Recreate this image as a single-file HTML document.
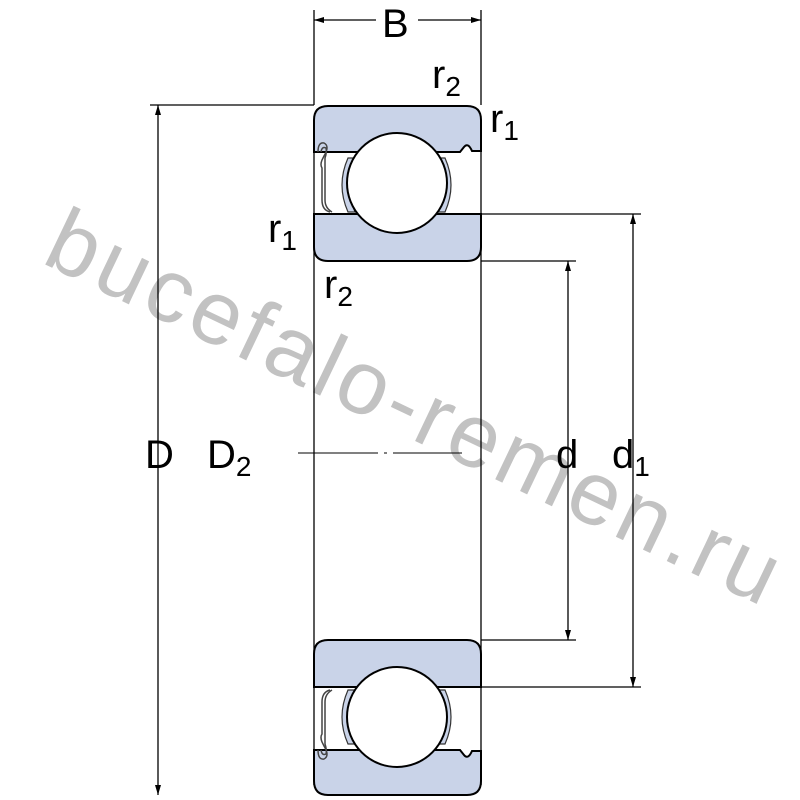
<!DOCTYPE html>
<html><head><meta charset="utf-8"><style>html,body{margin:0;padding:0;background:#fff}svg{display:block}</style></head>
<body>
<svg width="800" height="800" viewBox="0 0 800 800" xmlns="http://www.w3.org/2000/svg" font-family="Liberation Sans, sans-serif">
<defs>
<marker id="a" viewBox="0 0 10 10" refX="10" refY="5" markerWidth="10" markerHeight="10" markerUnits="userSpaceOnUse" orient="auto-start-reverse"><path d="M0,2 L10,5 L0,8 z" fill="#000"/></marker>
</defs>
<text x="40" y="262" transform="rotate(25.5 40 262)" font-size="90" fill="#c2c2c2" textLength="800">bucefalo-remen.ru</text>

<g stroke="#000" stroke-width="1.3" fill="none">
<line x1="314" y1="10" x2="314" y2="105"/><line x1="481" y1="10" x2="481" y2="105"/>
<line x1="314" y1="20" x2="376" y2="20" marker-start="url(#a)"/><line x1="418" y1="20" x2="481" y2="20" marker-end="url(#a)"/>
<line x1="150" y1="105" x2="314" y2="105"/>
<line x1="158" y1="105" x2="158" y2="795" marker-start="url(#a)" marker-end="url(#a)"/>
<line x1="481" y1="261" x2="576" y2="261"/><line x1="481" y1="640" x2="576" y2="640"/>
<line x1="568" y1="261" x2="568" y2="640" marker-start="url(#a)" marker-end="url(#a)"/>
<line x1="481" y1="214" x2="641" y2="214"/><line x1="481" y1="687" x2="641" y2="687"/>
<line x1="633" y1="214" x2="633" y2="687" marker-start="url(#a)" marker-end="url(#a)"/>
<line x1="298" y1="453" x2="462" y2="453" stroke-dasharray="80 6 3 6" stroke-width="1"/>
<line x1="314" y1="120" x2="314" y2="785"/><line x1="481" y1="120" x2="481" y2="785"/>
</g>

<g stroke="#000" stroke-width="2" fill="#c9d3e8">
<path d="M314,151 L314,120 Q314,106 328,106 L467,106 Q481,106 481,120 L481,151 L472,151 Q468,142 464,147 L460,152 L314,152 Z"/>
<path d="M314,214 L481,214 L481,247 Q481,261 467,261 L328,261 Q314,261 314,247 Z"/>
<path d="M314,654 Q314,640 328,640 L467,640 Q481,640 481,654 L481,687 L314,687 Z"/>
<path d="M314,750 L460,750 L464,755 Q468,760 472,751 L481,751 L481,781 Q481,795 467,795 L328,795 Q314,795 314,781 Z"/>
</g>
<g stroke="#333" stroke-width="1.2" fill="#c9d3e8">
<path d="M348,158 Q336,185 348,212 L355,212 Q344,185 355,158 Z"/>
<path d="M445,158 Q457,185 445,212 L438,212 Q449,185 438,158 Z"/>
<path d="M348,690 Q336,717 348,744 L355,744 Q344,717 355,690 Z"/>
<path d="M445,690 Q457,717 445,744 L438,744 Q449,717 438,690 Z"/>
</g>
<g stroke="#444" stroke-width="1.5" fill="none">
<path d="M318,152 Q318,142 324,143 Q330,146 324,156 L322,160 Q320,165 322,168 L322,200 Q322,210 330,212"/>
<path d="M321,152 Q322,146 326,148 Q327,152 325,158 L325,165 L325,200 Q325,208 332,212"/>
<path d="M318,750 Q318,760 324,759 Q330,756 324,746 L322,742 Q320,737 322,734 L322,702 Q322,692 330,690"/>
<path d="M321,750 Q322,756 326,754 Q327,750 325,744 L325,737 L325,702 Q325,694 332,690"/>
</g>
<circle cx="397" cy="183" r="50" fill="#fff" stroke="#000" stroke-width="2"/>
<circle cx="397" cy="717" r="50" fill="#fff" stroke="#000" stroke-width="2"/>

<g fill="#000" font-size="40">
<text x="382" y="37">B</text>
<text x="432" y="88">r<tspan font-size="28" dy="8">2</tspan></text>
<text x="490" y="132">r<tspan font-size="28" dy="8">1</tspan></text>
<text x="268" y="242">r<tspan font-size="28" dy="8">1</tspan></text>
<text x="324" y="298">r<tspan font-size="28" dy="8">2</tspan></text>
<text x="145" y="468">D</text>
<text x="207" y="468">D<tspan font-size="28" dy="8">2</tspan></text>
<text x="556" y="468">d</text>
<text x="612" y="468">d<tspan font-size="28" dy="8">1</tspan></text>
</g>
</svg>
</body></html>
